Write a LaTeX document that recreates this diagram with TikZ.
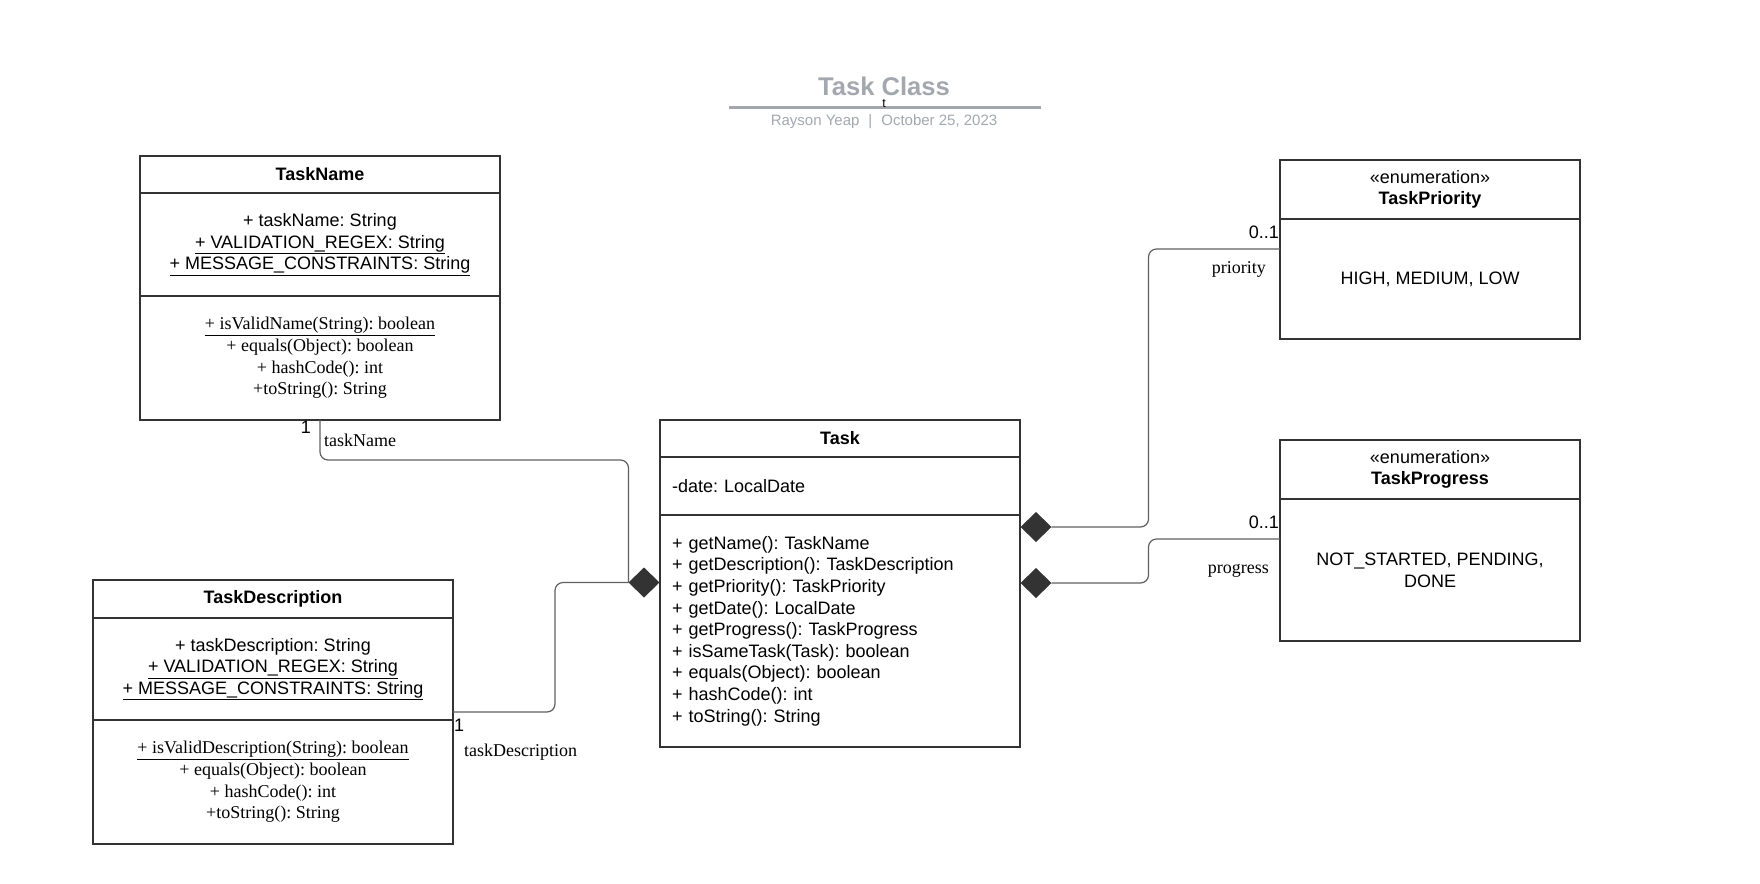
\documentclass[tikz,border=0pt]{standalone}
\usepackage{fontspec}
\setmainfont{Liberation Sans}
\newfontfamily\timesfont{Liberation Serif}
\usetikzlibrary{calc,positioning,shapes.geometric}
\definecolor{myline}{RGB}{51,51,51}
\definecolor{mywire}{RGB}{95,95,95}
\definecolor{mygray}{RGB}{163,167,174}
\frenchspacing

\begin{document}
\begin{tikzpicture}
    [x=1pt,y=-1pt,
     box/.style={draw=myline,line width=1.8,outer sep=0,inner sep=0,minimum width=#1,
        align=center,font=\fontsize{18}{21.6}\selectfont},
     leftbox/.style={box=#1,align=left,inner xsep=12,text width=#1-24},
     opsbox/.style={box=#1,font=\timesfont\fontsize{18}{21.6}\selectfont},
     dia/.style={diamond,fill=myline,inner sep=0,outer sep=0,minimum width=31,minimum height=30},
     wire/.style={draw=mywire,line width=1.2,rounded corners=8},
     lbl/.style={inner sep=0,font=\fontsize{18}{21.6}\selectfont},
     rlbl/.style={lbl,font=\timesfont\fontsize{18}{21.6}\selectfont}]

    \useasboundingbox (0,0) rectangle (1760,883);

    % title block
    \node[text=mygray,font=\bfseries\fontsize{25.6}{30}\selectfont] (title) at (884,86) {Task Class};
    \draw[mygray,line width=3] (729,107) -- (1041,107);
    \node[inner sep=0,font=\fontsize{12.5}{13}\selectfont] (tick) at (884,104) {t};
    \node[text=mygray,font=\fontsize{15}{18}\selectfont] (sub) at (884,122)
        {Rayson Yeap\hspace{0.6em}|\hspace{0.6em}October 25, 2023};

    % TaskName
    \node[box=360,minimum height=37,anchor=north west] (tnHead) at (140,156) {\bfseries TaskName};
    \node[box=360,minimum height=103,below=0pt of tnHead] (tnAttr)
        {+ taskName: String\\ \underline{+ VALIDATION\_REGEX: String}\\ \underline{+ MESSAGE\_CONSTRAINTS: String}};
    \node[opsbox=360,minimum height=124,below=0pt of tnAttr] (tnOps)
        {\underline{+ isValidName(String): boolean}\\ + equals(Object): boolean\\ + hashCode(): int\\ +toString(): String};

    % TaskDescription
    \node[box=360,minimum height=38,anchor=north west] (tdHead) at (93,580) {\bfseries TaskDescription};
    \node[box=360,minimum height=102,below=0pt of tdHead] (tdAttr)
        {+ taskDescription: String\\ \underline{+ VALIDATION\_REGEX: String}\\ \underline{+ MESSAGE\_CONSTRAINTS: String}};
    \node[opsbox=360,minimum height=124,below=0pt of tdAttr] (tdOps)
        {\underline{+ isValidDescription(String): boolean}\\ + equals(Object): boolean\\ + hashCode(): int\\ +toString(): String};

    % Task
    \node[box=360,minimum height=37,anchor=north west] (tHead) at (660,420) {\bfseries Task};
    \node[leftbox=360,minimum height=58,below=0pt of tHead] (tAttr) {-date: LocalDate};
    \node[leftbox=360,minimum height=232,below=0pt of tAttr] (tOps)
        {+ getName(): TaskName\\ + getDescription(): TaskDescription\\ + getPriority(): TaskPriority\\
         + getDate(): LocalDate\\ + getProgress(): TaskProgress\\ + isSameTask(Task): boolean\\
         + equals(Object): boolean\\ + hashCode(): int\\ + toString(): String};

    % enumerations
    \node[box=300,minimum height=59,anchor=north west] (tpHead) at (1280,160)
        {«enumeration»\\ \bfseries TaskPriority};
    \node[box=300,minimum height=120,below=0pt of tpHead] (tpBody) {HIGH, MEDIUM, LOW};
    \node[box=300,minimum height=59,anchor=north west] (tgHead) at (1280,440)
        {«enumeration»\\ \bfseries TaskProgress};
    \node[box=300,minimum height=142,below=0pt of tgHead] (tgBody) {NOT\_STARTED, PENDING,\\ DONE};

    % composition diamonds
    \node[dia] (dN) at (644,582.5) {};
    \node[dia] (dP) at (1036,527) {};
    \node[dia] (dG) at (1036,583) {};

    \coordinate (tdLink) at ($(tdAttr.south east)+(0,-8)$);
    \coordinate (tpLink) at ($(tpBody.north west)+(0,30)$);
    \coordinate (tgLink) at ($(tgBody.north west)+(0,40)$);

    \draw[wire] (tnOps.south) -- ++(0,40) -| (dN.west);
    \draw[wire] (tdLink) -- ++(102,0) |- (dN.west);
    \draw[wire] (dP.east) -- ++(97,0) |- (tpLink);
    \draw[wire] (dG.east) -- ++(97,0) |- (tgLink);

    % multiplicities and roles
    \node[lbl,anchor=north east] (nMult) at ($(tnOps.south)+(-9,1)$) {1};
    \node[rlbl,anchor=west] (nRole) at ($(tnOps.south)+(4,20)$) {taskName};
    \node[lbl,anchor=north west] (dMult) at ($(tdLink)+(1,6.5)$) {1};
    \node[rlbl,anchor=west] (dRole) at ($(tdLink)+(11,40)$) {taskDescription};
    \node[lbl,anchor=south east] (pMult) at ($(tpLink)+(-1,-10)$) {0..1};
    \node[rlbl,anchor=east] (pRole) at ($(tpLink)+(-14,20)$) {priority};
    \node[lbl,anchor=south east] (gMult) at ($(tgLink)+(-1,-10)$) {0..1};
    \node[rlbl,anchor=east] (gRole) at ($(tgLink)+(-11,32)$) {progress};
\end{tikzpicture}
\end{document}
